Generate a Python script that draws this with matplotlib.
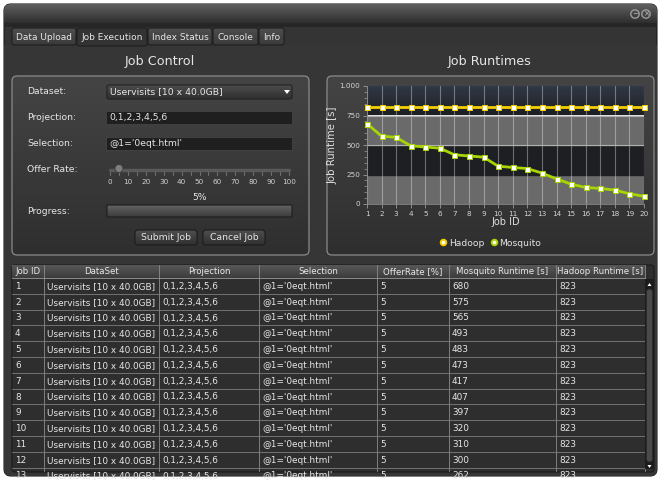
import matplotlib
matplotlib.use('Agg')

import matplotlib.pyplot as plt
import numpy as np
from matplotlib.patches import FancyBboxPatch, Rectangle, Circle, Polygon
from matplotlib.lines import Line2D
from matplotlib.ticker import FuncFormatter, MultipleLocator

# chart data
job_ids = list(range(1, 21))
mosquito_runtime = [680, 575, 565, 493, 483, 473, 417, 407, 397, 320,
                    310, 300, 262, 213, 168, 140, 132, 118, 87, 65]
hadoop_runtime = [823] * 20

# table / form content
tab_names = ['Data Upload', 'Job Execution', 'Index Status', 'Console', 'Info']
table_headers = ['Job ID', 'DataSet', 'Projection', 'Selection', 'OfferRate [%]',
                 'Mosquito Runtime [s]', 'Hadoop Runtime [s]']
dataset_name = 'Uservisits [10 x 40.0GB]'
projection = '0,1,2,3,4,5,6'
selection = "@1='0eqt.html'"
offer_rate = 5
slider_labels = [0, 10, 20, 30, 40, 50, 60, 70, 80, 90, 100]

FG = '#e6e6e6'
FONT = 'DejaVu Sans'
plt.rcParams['font.family'] = FONT

fig = plt.figure(figsize=(6.61, 4.80), dpi=100)
fig.patch.set_facecolor('white')
bg = fig.add_axes([0, 0, 1, 1])
bg.axis('off')


def vgrad(x0, y0, x1, y1, top, bottom, clip=None, z=1):
  c0 = np.array(matplotlib.colors.to_rgb(top))
  c1 = np.array(matplotlib.colors.to_rgb(bottom))
  t = np.linspace(0, 1, 64)[:, None, None]
  arr = c0 * (1 - t) + c1 * t
  im = bg.imshow(arr, extent=(x0, x1, y1, y0), origin='upper', aspect='auto',
                 interpolation='bilinear', zorder=z)
  if clip is not None:
    im.set_clip_path(clip)
  return im


def rbox(x0, y0, x1, y1, r=3, fc='none', ec='none', lw=1, z=2):
  p = FancyBboxPatch((x0, y0), x1 - x0, y1 - y0,
                     boxstyle='round,pad=0,rounding_size=%s' % r,
                     fc=fc, ec=ec, lw=lw, zorder=z)
  bg.add_patch(p)
  return p


def txt(x, y, s, size=6.7, ha='left', color=FG, z=10, **kw):
  return bg.text(x, y, s, fontsize=size, ha=ha, va='center', color=color, zorder=z, **kw)


# window
win = rbox(4, 4, 657, 476, r=7, fc='#343434', ec='#1a1a1a', lw=0.8, z=0.5)
vgrad(4, 4, 657, 23, '#606060', '#2e2e2e', clip=win, z=0.6)
bg.add_patch(Rectangle((4, 23), 653, 4, fc='#262626', ec='none', zorder=0.7))
body = Rectangle((4, 45), 653, 431, fc='#363636', ec='none', zorder=0.7)
bg.add_patch(body)
body.set_clip_path(win)
for cx, sym in ((635, '\u2212'), (646, '\u00d7')):
  bg.add_patch(Circle((cx, 14), 4.2, fc='none', ec='#9a9a9a', lw=1.0, zorder=3))
  txt(cx, 14, sym, size=5.5, ha='center', color='#9a9a9a', fontweight='bold')

# tabs
tab_edges = [12, 77, 148, 213, 259, 285]
for i, name in enumerate(tab_names):
  x0, x1 = tab_edges[i], tab_edges[i + 1] - 1
  if i == 1:
    rbox(x0, 28, x1, 46, r=2, fc='#333333', ec='#1e1e1e', lw=0.8, z=2)
  else:
    p = rbox(x0, 28, x1, 45, r=2, fc='none', ec='#1e1e1e', lw=0.8, z=3)
    vgrad(x0, 28, x1, 45, '#4e4e4e', '#3a3a3a', clip=p, z=2)
  txt((x0 + x1) / 2, 37, name, size=6.5, ha='center')

# panel titles
txt(160, 61, 'Job Control', size=9.2, ha='center')
txt(490, 61, 'Job Runtimes', size=9.2, ha='center')

# panels
for x0, x1 in ((12, 309), (327, 654)):
  p = rbox(x0, 76, x1, 255, r=5, fc='none', ec='#8a8a8a', lw=0.9, z=3)
  vgrad(x0, 76, x1, 255, '#444444', '#2f2f2f', clip=p, z=2)

# form labels
for y, s in ((92, 'Dataset:'), (117, 'Projection:'), (143, 'Selection:'),
             (169, 'Offer Rate:'), (211, 'Progress:')):
  txt(27, y, s)

# dropdown
p = rbox(107, 85, 292, 99, r=2, fc='none', ec='#222222', lw=0.8, z=4)
vgrad(107, 85, 292, 99, '#4c4c4c', '#303030', clip=p, z=3)
txt(110, 92, dataset_name)
bg.add_patch(Polygon([[284, 90], [290, 90], [287, 94]], fc='white', ec='none', zorder=5))

# text fields
for y0, s in ((111, projection), (137, selection)):
  bg.add_patch(Rectangle((106, y0), 186, 13, fc='#1f1f1f', ec='#444444', lw=0.6, zorder=3))
  txt(109, y0 + 6.8, s)

# slider
sx0, sx1 = 110, 289
bg.plot([sx0, sx1], [169.5, 169.5], color='#5a5a5a', lw=2.5, zorder=3, solid_capstyle='round')
for v in range(0, 101, 5):
  sx = sx0 + (sx1 - sx0) * v / 100
  bg.plot([sx, sx], [172, 174.5], color='#8a8a8a', lw=0.5, zorder=3)
for v in slider_labels:
  sx = sx0 + (sx1 - sx0) * v / 100
  txt(sx, 182, str(v), size=5.2, ha='center', color='#d0d0d0')
kx = sx0 + (sx1 - sx0) * offer_rate / 100
bg.add_patch(Circle((kx, 168.5), 4.0, fc='#7e7e7e', ec='#3a3a3a', lw=0.6, zorder=4))
txt(200, 197, '%d%%' % offer_rate, ha='center')

# progress bar
p = rbox(107, 205, 292, 217, r=1, fc='none', ec='#1e1e1e', lw=0.8, z=4)
vgrad(107, 205, 292, 217, '#636363', '#3c3c3c', clip=p, z=3)

# buttons
for x0, x1, s in ((135, 197, 'Submit Job'), (203, 265, 'Cancel Job')):
  p = rbox(x0, 230, x1, 245, r=3, fc='none', ec='#1c1c1c', lw=0.8, z=4)
  vgrad(x0, 230, x1, 245, '#4e4e4e', '#303030', clip=p, z=3)
  txt((x0 + x1) / 2, 237.5, s, ha='center')

# table
col_edges = [12, 44, 159, 259, 377, 449, 556, 645]
tx0, tx1, ty0, ty1 = 12, 654, 265, 472
row_h = 15.8
head_y1 = 278
tbl = rbox(tx0, ty0, tx1, ty1, r=3, fc='#2e2e2e', ec='#1a1a1a', lw=0.8, z=2)
vgrad(tx0, ty0, 645, head_y1, '#575757', '#3d3d3d', z=2.5)
for i, h in enumerate(table_headers):
  txt((col_edges[i] + col_edges[i + 1]) / 2, (ty0 + head_y1) / 2 + 0.5, h,
      size=6.2, ha='center', color='#e8e8e8')
for cx in col_edges[1:]:
  bg.plot([cx, cx], [ty0, ty1 - 1], color='#8c8c8c', lw=0.6, zorder=4)
bg.plot([tx0, 645], [head_y1, head_y1], color='#9a9a9a', lw=0.6, zorder=4)
for k in range(len(job_ids)):
  ry0 = head_y1 + k * row_h
  if ry0 > ty1:
    break
  vals = [str(job_ids[k]), dataset_name, projection, selection, str(offer_rate),
          str(mosquito_runtime[k]), str(hadoop_runtime[k])]
  for i, v in enumerate(vals):
    t = txt(col_edges[i] + 3, ry0 + row_h / 2 + 0.5, v, size=6.4, color='#e6e6e6', z=5)
    t.set_clip_path(tbl)
  line = bg.plot([tx0, 645], [ry0 + row_h, ry0 + row_h], color='#7e7e7e', lw=0.6, zorder=4)[0]
  line.set_clip_path(tbl)
# scrollbar
bg.add_patch(Rectangle((645, 279), 9, 190, fc='#1c1c1c', ec='none', zorder=4))
rbox(646.5, 289, 652.5, 462, r=3, fc='#4a4a4a', ec='#2a2a2a', lw=0.5, z=5)
bg.add_patch(Polygon([[647.5, 286], [651.5, 286], [649.5, 283]], fc='white', ec='none', zorder=6))
bg.add_patch(Polygon([[647.5, 465], [651.5, 465], [649.5, 468]], fc='white', ec='none', zorder=6))

bg.set_xlim(0, 661)
bg.set_ylim(480, 0)

# chart
W, H = 661.0, 480.0
ax = fig.add_axes([367 / W, 1 - 204 / H, (644 - 367) / W, (204 - 86) / H])
ax.axhspan(0, 250, color='#6a6a6a', zorder=0)
ax.axhspan(250, 500, color='#1d1f23', zorder=0)
ax.axhspan(500, 750, color='#6a6a6a', zorder=0)
grad = np.linspace(0, 1, 64)[:, None, None]
top_c = np.array(matplotlib.colors.to_rgb('#313948'))
bot_c = np.array(matplotlib.colors.to_rgb('#1d1f23'))
ax.imshow(top_c * (1 - grad) + bot_c * grad, extent=(1, 20, 750, 1000), origin='upper',
          aspect='auto', zorder=0)
ax.set_xlim(1, 20)
ax.set_ylim(0, 1000)
for x in job_ids:
  ax.axvline(x, color='white', alpha=0.35, lw=0.8, zorder=1)
for yv in (500, 750):
  ax.axhline(yv, color='#b0b0b0', lw=0.8, zorder=1)

ax.plot(job_ids, hadoop_runtime, color='#f4d000', lw=2.0, marker='s', ms=3.6,
        mfc='white', mec='#f4d000', mew=0.7, zorder=3, clip_on=False)
ax.plot(job_ids, mosquito_runtime, color='#a8d600', lw=2.0, marker='s', ms=3.6,
        mfc='white', mec='#a8d600', mew=0.7, zorder=3, clip_on=False)

ax.set_xticks(job_ids)
ax.set_yticks([0, 250, 500, 750, 1000])
ax.yaxis.set_minor_locator(MultipleLocator(50))
ax.yaxis.set_major_formatter(FuncFormatter(lambda v, p: '{:,.0f}'.format(v).replace(',', '.')))
ax.tick_params(axis='both', colors='#9a9a9a', labelcolor='#d4d4d4', labelsize=5.2,
               length=3, width=0.6, pad=2)
ax.tick_params(axis='y', which='minor', colors='#9a9a9a', length=2, width=0.5)
for s in ('top', 'right'):
  ax.spines[s].set_visible(False)
for s in ('left', 'bottom'):
  ax.spines[s].set_color('#8a8a8a')
  ax.spines[s].set_linewidth(0.6)
ax.set_xlabel('Job ID', color='#e0e0e0', fontsize=7, labelpad=0)
ax.set_ylabel('Job Runtime [s]', color='#e0e0e0', fontsize=7.3, labelpad=1)

handles = [Line2D([], [], ls='none', marker='o', ms=4, mfc='white', mec='#f4d000', mew=1.4),
           Line2D([], [], ls='none', marker='o', ms=4, mfc='white', mec='#a8d600', mew=1.4)]
leg = fig.legend(handles, ['Hadoop', 'Mosquito'], loc='center', ncol=2, frameon=False,
                 bbox_to_anchor=(490 / W, 1 - 243 / H), fontsize=6.6, handletextpad=0.1,
                 columnspacing=0.6, handlelength=1.0, labelcolor='#e4e4e4')

print("$ Saving graph to: out.png")
fig.savefig('out.png', dpi=100, facecolor='white')
